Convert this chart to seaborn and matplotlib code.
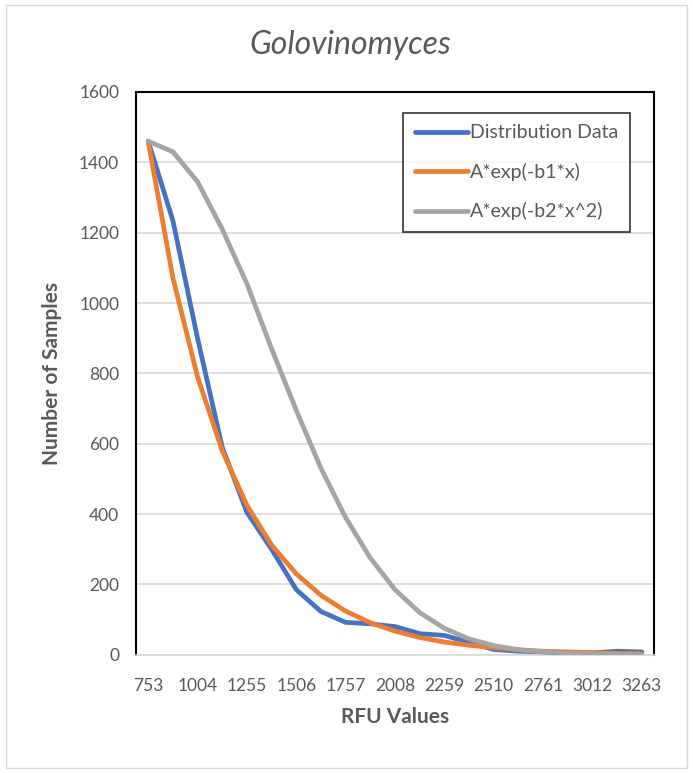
import numpy as np
import pandas as pd
import matplotlib
matplotlib.use("Agg")
import matplotlib.pyplot as plt
import seaborn as sns
from matplotlib.patches import Rectangle

# RFU bins (category axis, every other one gets a label)
rfu = [753, 878, 1004, 1129, 1255, 1380, 1506, 1631, 1757, 1882, 2008,
       2133, 2259, 2384, 2510, 2635, 2761, 2886, 3012, 3137, 3263]

dist_data = [1460, 1235, 900, 590, 405, 300, 185, 123, 92, 88, 80,
             60, 55, 35, 15, 10, 8, 5, 5, 10, 8]
exp_fit = [1460, 1072, 790, 580, 425, 312, 230, 169, 124, 91, 67,
           49, 36, 27, 20, 14, 10, 8, 6, 4, 3]
gauss_fit = [1460, 1430, 1345, 1210, 1055, 870, 695, 530, 390, 275, 185,
             120, 75, 45, 26, 14, 8, 4, 2, 1, 0]

series_names = ["Distribution Data", "A*exp(-b1*x)", "A*exp(-b2*x^2)"]
colors = ["#4472C4", "#ED7D31", "#A5A5A5"]

df = pd.DataFrame({
    "pos": list(range(len(rfu))) * 3,
    "count": dist_data + exp_fit + gauss_fit,
    "series": np.repeat(series_names, len(rfu)),
})

sns.set_style("white")
plt.rcParams["font.family"] = ["Lato", "DejaVu Sans"]

txt = "#595959"
fig = plt.figure(figsize=(6.93, 7.73), dpi=100)
ax = fig.add_axes([0.196, 0.153, 0.748, 0.728])

sns.lineplot(data=df, x="pos", y="count", hue="series", hue_order=series_names,
             palette=colors, linewidth=3.4, ax=ax, zorder=3)

ax.set_xlim(-0.5, len(rfu) - 0.5)
ax.set_ylim(0, 1600)
ax.set_yticks(range(0, 1601, 200))
ax.set_xticks(range(0, len(rfu), 2))
ax.set_xticklabels([str(v) for v in rfu[::2]])
ax.tick_params(axis="both", labelsize=12.5, colors=txt, length=0)
ax.tick_params(axis="x", pad=17)
ax.tick_params(axis="y", pad=12)
ax.grid(axis="y", color="#d9d9d9", linewidth=1.2)
ax.set_axisbelow(True)

for side in ["left", "right", "top"]:
    ax.spines[side].set_color("black")
    ax.spines[side].set_linewidth(1.5)
ax.spines["bottom"].set_color("#d9d9d9")
ax.spines["bottom"].set_linewidth(1.2)

ax.set_xlabel("RFU Values", fontsize=15, fontweight="bold", color=txt, labelpad=9)
ax.set_ylabel("Number of Samples", fontsize=15, fontweight="bold", color=txt, labelpad=12)
fig.text(0.505, 0.942, "Golovinomyces", fontsize=23, style="italic", color=txt,
         ha="center", va="center")

leg = ax.legend(loc="upper right", bbox_to_anchor=(0.954, 0.963), fontsize=14,
                frameon=True, fancybox=False, handlelength=2.7, handletextpad=0.15,
                labelspacing=1.1, borderpad=0.6, borderaxespad=0)
leg.get_frame().set_edgecolor("black")
leg.get_frame().set_linewidth(1.2)
for t in leg.get_texts():
    t.set_color(txt)

fig.patches.append(Rectangle((0.008, 0.006), 0.984, 0.988, transform=fig.transFigure,
                             fill=False, edgecolor="#d9d9d9", linewidth=1))

fig.savefig("out.png", dpi=100, facecolor="white")
